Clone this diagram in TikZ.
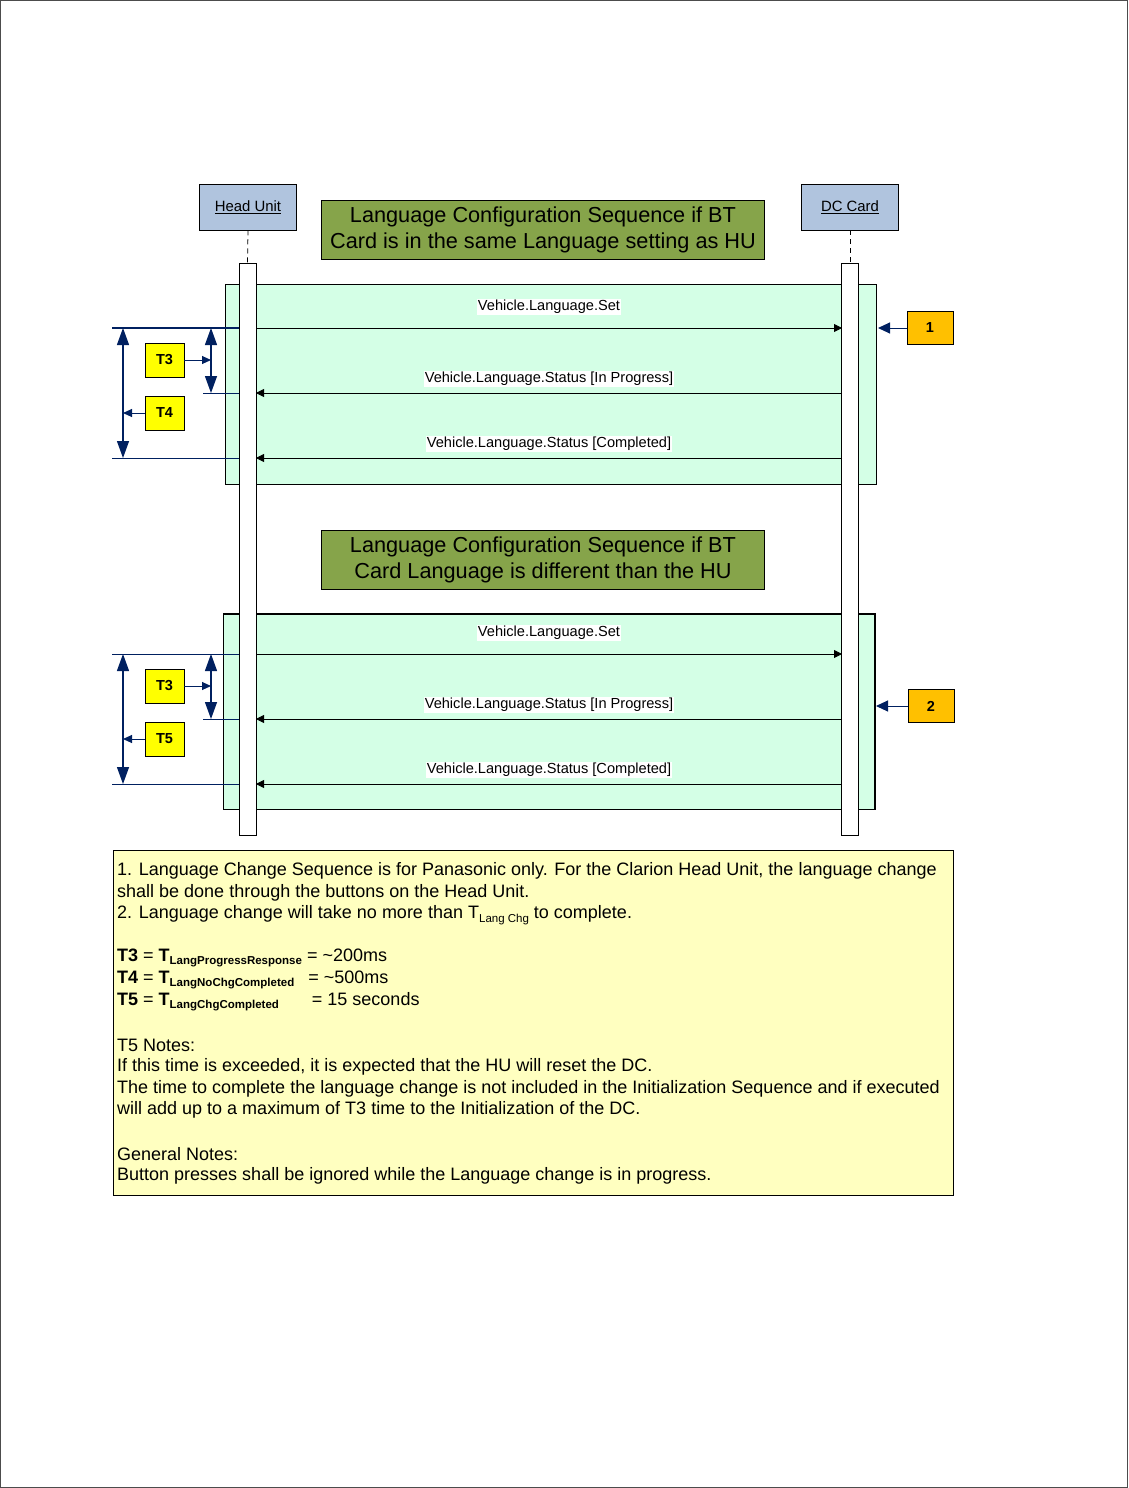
\documentclass[tikz,border=0pt]{standalone}
\usepackage{fontspec}
\setmainfont{Liberation Sans}
\usetikzlibrary{arrows.meta}
\definecolor{lifebox}{HTML}{B0C4DE}
\definecolor{titlegreen}{HTML}{86A44A}
\definecolor{framegreen}{HTML}{D4FFE6}
\definecolor{navy}{HTML}{002060}
\definecolor{tyellow}{HTML}{FFFF00}
\definecolor{orangebox}{HTML}{FFC000}
\definecolor{notefill}{HTML}{FFFFC0}
\newcommand{\tsub}[1]{\raisebox{-0.35ex}{\fontsize{11.5}{12}\selectfont\bfseries #1}}
\newcommand{\tsubn}[1]{\raisebox{-0.35ex}{\fontsize{11.5}{12}\selectfont #1}}
\begin{document}
\begin{tikzpicture}[x=1pt,y=-1pt,
 lifehead/.style={draw, line width=0.8pt, fill=lifebox, minimum width=97pt, minimum height=46pt, inner sep=0, font=\fontsize{14.9}{16}\selectfont},
 titlebox/.style={draw, line width=0.8pt, fill=titlegreen, minimum width=443pt, minimum height=59pt, align=center, font=\fontsize{21.7}{26}\selectfont, inner sep=0},
 actbar/.style={draw, line width=0.8pt, fill=white, minimum width=17pt, minimum height=572pt, inner sep=0},
 tbox/.style={draw, line width=0.8pt, fill=tyellow, minimum width=39pt, minimum height=34pt, font=\bfseries\fontsize{14.5}{16}\selectfont, inner sep=0},
 numbox/.style={draw, line width=0.8pt, fill=orangebox, minimum width=46pt, minimum height=33pt, font=\bfseries\fontsize{14.5}{16}\selectfont, inner sep=0},
 frame/.style={draw, line width=0.8pt, fill=framegreen},
 msg/.style={-{Triangle[length=8pt,width=8pt]}, line width=0.8pt},
 msglabel/.style={fill=white, inner sep=1pt, font=\fontsize{14.6}{16}\selectfont},
 dimline/.style={navy, line width=1pt},
 dimarrow/.style={navy, line width=1.3pt, {Triangle[length=17pt,width=12pt]}-{Triangle[length=17pt,width=12pt]}},
 ptr/.style={navy, line width=1pt, -{Triangle[length=9pt,width=8pt]}},
 ptrbig/.style={navy, line width=1pt, -{Triangle[length=12pt,width=11pt]}},
 notetext/.style={anchor=west, inner sep=0, font=\fontsize{18}{20}\selectfont},
 lifeline/.style={dashed, line width=0.8pt, dash pattern=on 5pt off 4pt}
]
\useasboundingbox (0,0) rectangle (1128,1488);
\draw[line width=1pt, black!70] (0.5,0.5) rectangle (1127.5,1487.5);

% frames
\draw[frame] (225,284) rectangle (876,484);
\draw[frame] (223,614) rectangle (875,809);
\draw[line width=2pt] (223,614) -- (875,614) -- (875,809);

% heads
\node[lifehead] (hu) at (248,207) {\underline{Head Unit}};
\node[lifehead] (dc) at (850,207) {\underline{DC Card}};

% titles
\node[titlebox] (t1) at (543,230) {Language Configuration Sequence if BT\\Card is in the same Language setting as HU};
\node[titlebox] (t2) at (543,560) {Language Configuration Sequence if BT\\Card Language is different than the HU};

% blue reference lines (section 1)
\coordinate (a1) at (112,328); \coordinate (a1e) at (239,328);
\coordinate (b1) at (203,393); \coordinate (b1e) at (239,393);
\coordinate (c1) at (112,458); \coordinate (c1e) at (239,458);
\draw[dimline, line width=2pt] (a1) -- (a1e);
\draw[dimline] (b1) -- (b1e);
\draw[dimline] (c1) -- (c1e);
% section 2
\coordinate (a2) at (112,654); \coordinate (a2e) at (239,654);
\coordinate (b2) at (203,719); \coordinate (b2e) at (239,719);
\coordinate (c2) at (112,784); \coordinate (c2e) at (239,784);
\draw[dimline] (a2) -- (a2e);
\draw[dimline] (b2) -- (b2e);
\draw[dimline] (c2) -- (c2e);

% activation bars
\node[actbar] (hubar) at (247.5,549) {};
\node[actbar] (dcbar) at (850,549) {};
\draw[lifeline] (hu.south) -- (hubar.north);
\draw[lifeline] (dc.south) -- (dcbar.north);

% messages section 1
\coordinate (m1s) at (256,328); \coordinate (m1e) at (842,328);
\coordinate (m2s) at (842,393); \coordinate (m2e) at (256,393);
\coordinate (m3s) at (842,458); \coordinate (m3e) at (256,458);
\draw[msg] (m1s) -- (m1e);
\draw[msg] (m2s) -- (m2e);
\draw[msg] (m3s) -- (m3e);
\node[msglabel] (l1) at (549,307) {Vehicle.Language.Set};
\node[msglabel] (l2) at (549,379) {Vehicle.Language.Status [In Progress]};
\node[msglabel] (l3) at (549,444) {Vehicle.Language.Status [Completed]};

% messages section 2
\coordinate (n1s) at (256,654); \coordinate (n1e) at (842,654);
\coordinate (n2s) at (842,719); \coordinate (n2e) at (256,719);
\coordinate (n3s) at (842,784); \coordinate (n3e) at (256,784);
\draw[msg] (n1s) -- (n1e);
\draw[msg] (n2s) -- (n2e);
\draw[msg] (n3s) -- (n3e);
\node[msglabel] (k1) at (549,633) {Vehicle.Language.Set};
\node[msglabel] (k2) at (549,705) {Vehicle.Language.Status [In Progress]};
\node[msglabel] (k3) at (549,770) {Vehicle.Language.Status [Completed]};

% dimension arrows section 1
\coordinate (d1t) at (123,328); \coordinate (d1b) at (123,458);
\coordinate (e1t) at (211,328); \coordinate (e1b) at (211,393);
\draw[dimarrow] (d1t) -- (d1b);
\draw[dimarrow] (e1t) -- (e1b);
\node[tbox] (t3a) at (164.5,360) {T3};
\node[tbox] (t4) at (164.5,413) {T4};
\coordinate (e1m) at (211,360);
\coordinate (d1m) at (123,413);
\draw[ptr] (t3a.east) -- (e1m);
\draw[ptr] (t4.west) -- (d1m);

% dimension arrows section 2
\coordinate (d2t) at (123,654); \coordinate (d2b) at (123,784);
\coordinate (e2t) at (211,654); \coordinate (e2b) at (211,719);
\draw[dimarrow] (d2t) -- (d2b);
\draw[dimarrow] (e2t) -- (e2b);
\node[tbox] (t3b) at (164.5,686) {T3};
\node[tbox] (t5) at (164.5,739) {T5};
\coordinate (e2m) at (211,686);
\coordinate (d2m) at (123,739);
\draw[ptr] (t3b.east) -- (e2m);
\draw[ptr] (t5.west) -- (d2m);

% numbered boxes
\node[numbox] (nb1) at (930,328) {1};
\node[numbox] (nb2) at (931,706) {2};
\coordinate (f1) at (878,328);
\coordinate (f2) at (876,706);
\draw[ptrbig] (nb1.west) -- (f1);
\draw[ptrbig] (nb2.west) -- (f2);

% notes
\node[draw, line width=0.8pt, fill=notefill, minimum width=840pt, minimum height=345pt, inner sep=0] (notes) at (533,1022.5) {};
\node[notetext] (n01) at (117,871) {1. Language Change Sequence is for Panasonic only. For the Clarion Head Unit, the language change};
\node[notetext] (n02) at (117,893) {shall be done through the buttons on the Head Unit.};
\node[notetext] (n03) at (117,915) {2. Language change will take no more than T\tsubn{Lang Chg} to complete.};
\node[notetext] (n04) at (117,958) {\textbf{T3} = \textbf{T}\tsub{LangProgressResponse} = \textasciitilde200ms};
\node[notetext] (n05) at (117,980) {\textbf{T4} = \textbf{T}\tsub{LangNoChgCompleted}\hspace{9pt} = \textasciitilde500ms};
\node[notetext] (n06) at (117,1002) {\textbf{T5} = \textbf{T}\tsub{LangChgCompleted}\hspace{28pt} = 15 seconds};
\node[notetext] (n07) at (117,1045) {T5 Notes:};
\node[notetext] (n08) at (117,1067) {If this time is exceeded, it is expected that the HU will reset the DC.};
\node[notetext] (n09) at (117,1089) {The time to complete the language change is not included in the Initialization Sequence and if executed};
\node[notetext] (n10) at (117,1110) {will add up to a maximum of T3 time to the Initialization of the DC.};
\node[notetext] (n11) at (117,1154) {General Notes:};
\node[notetext] (n12) at (117,1176) {Button presses shall be ignored while the Language change is in progress.};
\end{tikzpicture}
\end{document}
